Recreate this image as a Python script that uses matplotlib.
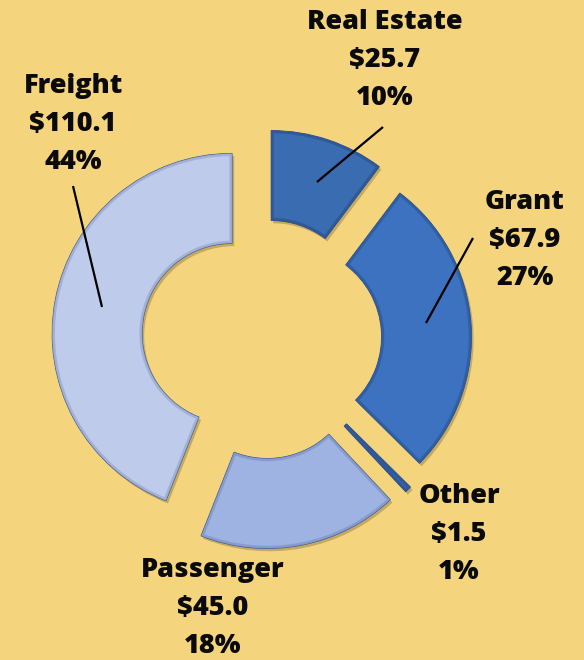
import matplotlib
matplotlib.use("Agg")
import matplotlib.pyplot as plt
import matplotlib.patheffects as pe
from matplotlib.patches import Wedge

# data
labels = ["Real Estate", "Grant", "Other", "Passenger", "Freight"]
amounts = [25.7, 67.9, 1.5, 45.0, 110.1]
pcts = [10, 27, 1, 18, 44]
colors = ["#3a6cb1", "#3c72bf", "#3a6cb1", "#9fb3e2", "#bfcbea"]
edge_dark = ["#2b5290", "#2d5799", "#2b5290", "#7f93c6", "#98a6cf"]

BG = "#f5d47e"
W, H = 584, 660

fig = plt.figure(figsize=(W / 100, H / 100), dpi=100, facecolor=BG)
ax = fig.add_axes([0, 0, 1, 1])
ax.set_facecolor(BG)

# pixel coords, y axis flipped -> visual clockwise from top
wedges, _ = ax.pie(amounts, colors=colors, radius=180, center=(261.6, 339),
                   startangle=-90, counterclock=True, explode=[30] * len(amounts),
                   wedgeprops=dict(width=90, edgecolor="#2d4f85", linewidth=0.6))
for w, ec in zip(wedges, edge_dark):
    w.set_path_effects([pe.SimplePatchShadow(offset=(1.5, -2), alpha=0.35, shadow_rgbFace="#6b5a30"),
                        pe.Normal()])
    # bevel-ish inner border, clipped to the wedge itself
    b = Wedge(w.center, w.r, w.theta1, w.theta2, width=w.width, facecolor="none",
              edgecolor=ec, linewidth=4, alpha=0.7)
    ax.add_patch(b)
    b.set_clip_path(w)
ax.set_xlim(0, W)
ax.set_ylim(H, 0)
ax.set_aspect("equal")
ax.axis("off")

# label positions (centre of each text block's first line)
lab_xy = {"Real Estate": (385, 22), "Grant": (525, 202), "Other": (459, 496),
          "Passenger": (213, 570), "Freight": (73, 86)}
for name, amt, p in zip(labels, amounts, pcts):
    x, y = lab_xy[name]
    for i, s in enumerate([name, f"${amt:.1f}", f"{p}%"]):
        ax.text(x, y + i * 38, s, ha="center", va="center", fontsize=19.5,
                fontweight=800, family=["Open Sans", "DejaVu Sans"], color="#0a0a0a")

# leader lines
leaders = [((317, 182), (383, 127)), ((426, 323), (473, 238)), ((102, 307), (73, 186))]
for (x0, y0), (x1, y1) in leaders:
    ax.plot([x0, x1], [y0, y1], color="black", lw=1.6, solid_capstyle="butt")

fig.savefig("out.png", dpi=100, facecolor=BG)
